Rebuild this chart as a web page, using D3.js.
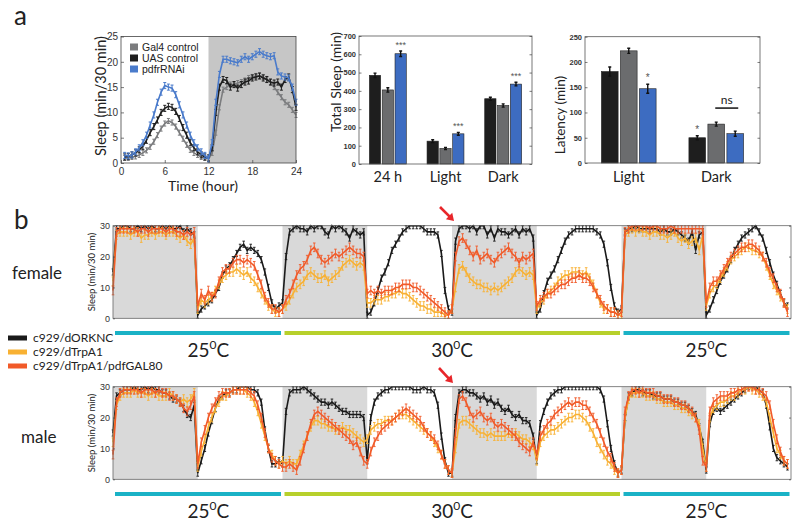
<!DOCTYPE html>
<html><head><meta charset="utf-8">
<script src="https://cdn.jsdelivr.net/npm/d3@7"></script>
<style>body{margin:0;background:#fff}svg{display:block}</style>
</head><body><svg id="c" width="800" height="528"></svg>
<script>
// ---------------- DATA ----------------
// Panel a: 24 h profile, 48 half-hour bins
const seriesA = ["Gal4 control", "UAS control", "pdfrRNAi"];
const gal4 = [1.0,1.0,1.2,1.3,1.6,2.0,2.5,3.2,4.2,5.5,6.8,7.8,8.3,8.0,7.2,6.0,4.8,3.6,2.6,2.0,1.6,1.2,1.0,0.8,
              2.0,6.0,11.0,14.5,15.0,15.5,15.5,15.8,16.0,16.3,16.8,17.0,17.2,17.2,17.0,16.5,16.0,15.0,14.0,13.0,12.0,11.5,10.5,9.5];
const uas  = [1.2,1.3,1.6,2.0,2.6,3.3,4.5,6.0,7.2,8.5,10.0,10.8,11.2,11.0,10.2,8.8,7.0,5.5,4.0,3.0,2.2,1.6,1.2,1.0,
              3.0,10.0,15.0,16.5,16.3,15.0,15.5,14.8,15.5,16.0,16.2,16.8,17.0,17.2,16.8,16.5,16.0,15.8,16.0,15.0,16.5,17.0,14.5,11.0];
const pdfr = [1.5,1.4,1.6,2.2,3.0,4.0,5.5,7.5,9.5,12.0,14.0,15.3,15.0,14.8,13.5,11.5,9.5,7.5,5.5,4.0,3.0,2.2,1.5,0.8,
              4.0,12.0,17.5,20.5,20.5,20.2,20.0,19.8,20.5,21.0,20.5,21.0,21.5,22.0,21.5,21.2,21.0,21.2,18.0,17.2,17.0,16.8,15.0,12.0];
const errA = [0.5, 0.6, 0.6];
const xTicksA = [0, 6, 12, 18, 24];
const yTicksA = [0, 5, 10, 15, 20, 25];

// Total sleep
const totalCats = ["24 h", "Light", "Dark"];
const totalUAS  = [485, 125, 357];
const totalGal4 = [405, 85, 320];
const totalPdfr = [603, 165, 437];
const totalErrUAS  = [12, 8, 8];
const totalErrGal4 = [12, 6, 9];
const totalErrPdfr = [15, 8, 10];
const totalStars = ["***", "***", "***"];
const totalTicks = [0,100,200,300,400,500,600,700];

// Latency
const latCats = ["Light", "Dark"];
const latUAS  = [181, 50];
const latGal4 = [222, 77];
const latPdfr = [147, 58];
const latErrUAS  = [9, 4];
const latErrGal4 = [5, 4];
const latErrPdfr = [9, 5];
const latTicks = [0,50,100,150,200,250];

// Panel b: 4 days, 8 half-days (dark first), 24 bins each
const seriesB = ["c929/dORKNC", "c929/dTrpA1", "c929/dTrpA1/pdfGAL80"];
const femaleORK = [
 15,29,29,30,30,29,29,30,29,30,29,30,29,29,30,29,30,29,29,30,28,29,28,27,
 1,3,4,5,6,8,10,14,16,17,19,21,23,24,22,23,22,21,19,15,10,5,3,4,
 5,20,28,29,30,29,29,28,30,29,30,30,28,27,30,29,30,29,28,26,29,28,27,28,
 1,2,5,9,13,15,18,22,24,26,28,29,30,30,30,30,29,28,28,28,27,21,9,3,
 2,25,29,30,30,29,30,28,30,30,27,29,26,29,28,28,27,28,29,27,29,28,29,26,
 1,3,8,12,14,16,19,22,25,27,28,29,29,29,29,29,29,28,27,24,18,10,4,2,
 3,28,29,29,30,29,29,29,29,29,29,28,29,28,28,29,28,27,26,25,28,22,27,28,
 1,3,6,9,12,14,16,19,22,24,26,27,28,29,30,28,26,22,18,14,11,8,5,4];
const femaleTrp = [
 12,27,28,28,28,27,28,28,26,27,27,28,27,28,28,27,28,28,27,26,27,25,24,26,
 3,6,5,6,7,9,11,13,14,15,15,16,15,14,15,13,12,10,8,6,4,3,2,2,
 3,4,6,8,10,11,12,14,15,14,13,13,14,12,13,14,15,17,18,19,18,17,18,17,
 5,5,6,6,6,7,7,8,8,9,8,8,7,6,5,4,4,3,3,2,2,2,1,1,
 3,10,16,17,15,13,12,11,11,10,10,9,10,9,10,11,12,13,15,16,15,14,15,14,
 3,5,6,8,9,10,12,13,14,14,15,15,15,14,15,13,11,8,5,3,3,2,2,1,
 1,27,28,29,28,29,28,28,27,28,28,27,27,26,27,28,26,25,26,24,25,26,22,27,
 4,8,10,11,13,15,17,19,20,21,22,23,23,22,22,21,20,17,14,11,9,7,5,3];
const femalePdf = [
 9,28,29,29,29,29,29,28,29,29,28,29,29,29,29,28,29,29,28,28,27,28,27,28,
 4,8,6,9,7,8,12,15,16,16,18,19,19,18,19,18,17,14,11,7,5,3,3,2,
 3,6,8,11,14,16,17,19,22,23,21,19,18,19,20,21,20,21,22,23,22,21,21,20,
 8,9,8,9,8,9,9,9,10,10,11,11,11,10,10,9,8,7,6,5,4,3,2,1,
 3,20,25,26,24,22,20,22,19,20,21,19,18,20,21,22,23,21,20,18,20,19,20,21,
 4,6,7,8,8,9,10,11,11,12,13,13,14,13,13,12,10,8,6,4,3,2,2,1,
 2,28,29,30,30,30,30,30,29,30,30,29,29,29,30,29,29,29,29,29,29,29,29,29,
 5,10,12,12,14,16,18,20,21,22,23,23,24,24,23,22,20,18,15,13,10,8,5,2];
const maleORK = [
 15,27,28,29,29,29,30,29,29,30,29,30,29,29,28,28,27,26,26,25,23,21,20,24,
 2,6,10,15,19,23,26,27,28,28,29,29,30,30,30,29,29,28,25,16,10,5,5,6,
 5,22,28,29,29,29,30,29,28,27,26,25,25,24,25,24,23,22,22,21,21,21,21,20,
 6,20,25,27,28,29,29,30,30,30,30,30,30,29,29,29,30,29,29,28,24,14,6,2,
 2,20,28,29,29,28,28,27,26,27,25,26,24,25,23,22,23,21,20,21,19,19,18,14,
 6,18,22,25,27,28,29,29,30,30,30,30,30,30,30,30,30,30,29,26,18,10,5,2,
 3,20,27,28,29,29,28,28,28,27,27,27,26,26,26,25,25,24,24,23,22,21,17,12,
 3,18,22,23,22,23,24,25,26,27,28,29,30,30,30,29,28,24,17,10,7,6,5,4];
const maleTrp = [
 12,24,27,28,28,28,29,28,28,28,27,28,28,27,27,27,28,27,26,25,26,25,26,28,
 4,9,13,17,20,23,25,27,27,28,29,29,29,29,28,27,25,22,18,14,10,8,6,5,
 6,5,6,5,5,8,11,14,17,19,19,18,18,17,17,16,16,17,16,16,15,14,13,12,
 13,16,17,18,18,19,19,19,20,21,21,21,20,19,18,17,16,15,14,12,10,8,5,3,
 2,10,18,19,19,18,17,16,15,15,14,15,14,14,14,14,15,14,15,14,13,13,12,11,
 6,12,14,15,16,16,17,18,19,20,20,21,21,20,19,17,15,12,10,8,6,5,3,2,
 3,20,26,28,28,28,28,27,27,27,26,26,25,25,25,24,24,23,23,22,21,20,18,10,
 4,20,23,24,25,25,26,27,27,28,29,29,30,29,29,28,27,25,20,15,10,8,6,5];
const malePdf = [
 8,25,28,29,29,29,29,29,28,29,29,29,28,29,28,28,27,27,26,25,23,22,24,27,
 5,12,16,20,23,25,27,28,28,28,29,29,29,29,29,28,27,24,20,15,10,7,6,5,
 4,4,5,4,3,6,10,14,18,21,22,21,20,19,18,17,16,15,14,13,11,12,9,6,
 5,9,12,14,16,17,18,19,20,21,22,23,22,21,20,19,17,15,14,13,11,8,5,3,
 2,15,26,27,25,22,20,21,22,20,19,20,18,17,18,17,16,15,14,12,11,10,9,12,
 8,14,16,18,19,21,22,23,24,25,24,25,25,24,24,22,20,18,15,12,9,7,4,2,
 3,22,27,29,29,28,29,28,28,28,27,27,26,26,26,25,25,24,24,23,22,20,16,6,
 4,22,25,26,27,27,27,28,28,29,29,30,30,30,29,29,28,27,24,18,13,9,6,5];
const errB = [1.0, 1.4, 1.4];
const darkPhases = [[0,12],[24,36],[48,60],[72,84]];
const tempSegments = [[0,24,"25"],[24,72,"30"],[72,96,"25"]];
const yTicksB = [0,10,20,30];

// ---------------- STYLE ----------------
const FL = "Lato, 'Open Sans', sans-serif";
const FT = "'Liberation Sans', Arial, sans-serif";
const colA = ["#7b7c7e", "#1e1e1e", "#4a7bcb"];
const colBar = ["#1e1e1e", "#6b6c6e", "#3d6cc1"];
const colB = ["#1a1a1a", "#f8b133", "#f15a29"];

const svg = d3.select("#c");
svg.append("rect").attr("width", 800).attr("height", 528).attr("fill", "#fff");

function errPath(pts, x, y, e, cap, ymax) {
  let s = "";
  pts.forEach(([t, v]) => {
    const px = x(t), hi = y(Math.min(v + e, ymax)), lo = y(Math.max(v - e, 0));
    s += `M${px},${lo}V${hi}M${px - cap},${hi}H${px + cap}M${px - cap},${lo}H${px + cap}`;
  });
  return s;
}
function styleTicks(g, size, weight) {
  g.selectAll("text").attr("font-family", FT).attr("font-size", size).attr("fill", "#333").attr("font-weight", weight || "normal");
  g.selectAll("line").attr("stroke", "#444").attr("stroke-width", 0.7);
  g.select(".domain").remove();
}

// panel labels
svg.append("text").attr("x", 14).attr("y", 25).text("a").attr("font-family", FL).attr("font-size", 26).attr("fill", "#222");
svg.append("text").attr("x", 14).attr("y", 229).text("b").attr("font-family", FL).attr("font-size", 26).attr("fill", "#222");

// ---------------- PANEL a: profile ----------------
{
  const x = d3.scaleLinear().domain([0, 24]).range([121, 296]);
  const y = d3.scaleLinear().domain([0, 25]).range([163, 36.5]);
  const g = svg.append("g");
  g.append("rect").attr("x", x(12)).attr("y", y(25)).attr("width", x(24) - x(12)).attr("height", y(0) - y(25)).attr("fill", "#c6c6c6");
  const tA = gal4.map((_, i) => (i + 1) * 0.5);
  [gal4, uas, pdfr].forEach((vals, k) => {
    const pts = vals.map((v, i) => [tA[i], v]);
    g.append("path").attr("d", d3.line().x(d => x(d[0])).y(d => y(d[1]))(pts))
      .attr("fill", "none").attr("stroke", colA[k]).attr("stroke-width", 1.6);
    g.append("path").attr("d", errPath(pts, x, y, errA[k], 1.5, 25))
      .attr("fill", "none").attr("stroke", colA[k]).attr("stroke-width", 1);
  });
  g.append("rect").attr("x", x(0)).attr("y", y(25)).attr("width", x(24) - x(0)).attr("height", y(0) - y(25))
    .attr("fill", "none").attr("stroke", "#444").attr("stroke-width", 0.8);
  const ax = g.append("g").attr("transform", `translate(0,${y(0)})`)
    .call(d3.axisBottom(x).tickValues(xTicksA).tickSize(-3).tickSizeOuter(0).tickPadding(5));
  styleTicks(ax, 10);
  const ay = g.append("g").attr("transform", `translate(${x(0)},0)`)
    .call(d3.axisLeft(y).tickValues(yTicksA).tickSize(-3).tickSizeOuter(0).tickPadding(3));
  styleTicks(ay, 10);
  // legend
  seriesA.forEach((s, k) => {
    const ly = 47 + k * 11;
    g.append("rect").attr("x", 130).attr("y", ly - 3.5).attr("width", 8).attr("height", 7).attr("fill", colA[k]);
    g.append("text").attr("x", 142).attr("y", ly + 4).text(s).attr("font-family", FT).attr("font-size", 10.5).attr("fill", "#222");
  });
  g.append("text").attr("transform", `translate(106,96) rotate(-90)`).attr("text-anchor", "middle")
    .text("Sleep (min/30 min)").attr("font-family", FL).attr("font-size", 14.5).attr("fill", "#222");
  g.append("text").attr("x", 203).attr("y", 191).attr("text-anchor", "middle")
    .text("Time (hour)").attr("font-family", FL).attr("font-size", 14).attr("fill", "#222");
}

// ---------------- bar chart helper ----------------
function barChart(o) {
  const g = svg.append("g");
  const x = d3.scaleBand().domain(o.cats).range([o.x0, o.x1]).paddingInner(o.pi).paddingOuter(o.pi / 2);
  const xi = d3.scaleBand().domain([0, 1, 2]).range([0, x.bandwidth()]).paddingInner(0.12);
  const y = d3.scaleLinear().domain([0, o.yMax]).range([o.yBot, o.yTop]);
  const vals = [o.s0, o.s1, o.s2], errs = [o.e0, o.e1, o.e2];
  o.cats.forEach((c, ci) => {
    vals.forEach((arr, k) => {
      const bx = x(c) + xi(k), bw = xi.bandwidth();
      g.append("rect").attr("x", bx).attr("y", y(arr[ci])).attr("width", bw).attr("height", y(0) - y(arr[ci]))
        .attr("fill", colBar[k]).attr("stroke", "#222").attr("stroke-width", 0.6);
      const cx = bx + bw / 2;
      g.append("path").attr("d", `M${cx},${y(arr[ci] - errs[k][ci])}V${y(arr[ci] + errs[k][ci])}M${cx - 1.5},${y(arr[ci] + errs[k][ci])}H${cx + 1.5}M${cx - 1.5},${y(arr[ci] - errs[k][ci])}H${cx + 1.5}`)
        .attr("stroke", "#111").attr("stroke-width", 1.4).attr("fill", "none");
    });
  });
  g.append("rect").attr("x", o.x0).attr("y", o.yTop).attr("width", o.x1 - o.x0).attr("height", o.yBot - o.yTop)
    .attr("fill", "none").attr("stroke", "#555").attr("stroke-width", 0.8);
  const ay = g.append("g").attr("transform", `translate(${o.x0},0)`)
    .call(d3.axisLeft(y).tickValues(o.ticks).tickSize(-2.5).tickSizeOuter(0).tickPadding(3));
  styleTicks(ay, 7.5, "bold");
  const ar = g.append("g").attr("transform", `translate(${o.x1},0)`)
    .call(d3.axisRight(y).tickValues(o.ticks).tickSize(-2.5).tickSizeOuter(0).tickFormat(""));
  styleTicks(ar, 7);
  o.cats.forEach(c => {
    g.append("text").attr("x", x(c) + x.bandwidth() / 2).attr("y", 182).attr("text-anchor", "middle")
      .text(c).attr("font-family", FL).attr("font-size", 14.5).attr("fill", "#222");
  });
  g.append("text").attr("transform", `translate(${o.tx},${o.ty}) rotate(-90)`).attr("text-anchor", "middle")
    .text(o.title).attr("font-family", FL).attr("font-size", o.tfs).attr("fill", "#222");
  return { g, x, xi, y };
}

// Total sleep
{
  const c = barChart({ cats: totalCats, s0: totalUAS, s1: totalGal4, s2: totalPdfr, e0: totalErrUAS, e1: totalErrGal4, e2: totalErrPdfr,
    x0: 359, x1: 532, yTop: 36, yBot: 164, yMax: 700, ticks: totalTicks, pi: 0.36, title: "Total Sleep (min)", tx: 341, ty: 82, tfs: 14 });
  totalCats.forEach((cat, ci) => {
    const cx = c.x(cat) + c.xi(2) + c.xi.bandwidth() / 2;
    c.g.append("text").attr("x", cx).attr("y", c.y(totalPdfr[ci] + totalErrPdfr[ci]) - 3).attr("text-anchor", "middle")
      .text(totalStars[ci]).attr("font-family", FT).attr("font-size", 9).attr("fill", "#555");
  });
}
// Latency
{
  const c = barChart({ cats: latCats, s0: latUAS, s1: latGal4, s2: latPdfr, e0: latErrUAS, e1: latErrGal4, e2: latErrPdfr,
    x0: 585, x1: 760, yTop: 36.7, yBot: 163, yMax: 250, ticks: latTicks, pi: 0.375, title: "Latency  (min)", tx: 565, ty: 115, tfs: 13.5 });
  const sx = (cat, k) => c.x(cat) + c.xi(k) + c.xi.bandwidth() / 2;
  c.g.append("text").attr("x", sx("Light", 2)).attr("y", c.y(latPdfr[0] + latErrPdfr[0]) - 3).attr("text-anchor", "middle")
    .text("*").attr("font-family", FT).attr("font-size", 10).attr("fill", "#555");
  c.g.append("text").attr("x", sx("Dark", 0)).attr("y", c.y(latUAS[1] + latErrUAS[1]) - 3).attr("text-anchor", "middle")
    .text("*").attr("font-family", FT).attr("font-size", 10).attr("fill", "#555");
  const ly = c.y(latGal4[1] + latErrGal4[1]) - 14;
  c.g.append("line").attr("x1", sx("Dark", 1) - 1).attr("x2", sx("Dark", 2) + 3).attr("y1", ly).attr("y2", ly)
    .attr("stroke", "#111").attr("stroke-width", 1.5);
  c.g.append("text").attr("x", (sx("Dark", 1) + sx("Dark", 2)) / 2 + 1).attr("y", ly - 4).attr("text-anchor", "middle")
    .text("ns").attr("font-family", FL).attr("font-size", 12).attr("fill", "#222");
}

// ---------------- PANEL b ----------------
const xb = d3.scaleLinear().domain([0, 96]).range([113, 791]);
const tB = femaleORK.map((_, i) => Math.floor(i / 24) * 12 + (i % 24) * 0.5);

function sleepPanel(yTop, yBot, data, label, lx, ly, tempY, tempTextY, arrow) {
  const y = d3.scaleLinear().domain([0, 30]).range([yBot, yTop]);
  const g = svg.append("g");
  darkPhases.forEach(([a, b]) => {
    g.append("rect").attr("x", xb(a)).attr("y", yTop).attr("width", xb(b) - xb(a)).attr("height", yBot - yTop).attr("fill", "#d9d9d9");
  });
  data.forEach((vals, k) => {
    const pts = vals.map((v, i) => [tB[i], v]);
    g.append("path").attr("d", d3.line().x(d => xb(d[0])).y(d => y(d[1]))(pts))
      .attr("fill", "none").attr("stroke", colB[k]).attr("stroke-width", 1.6);
    g.append("path").attr("d", errPath(pts, xb, y, errB[k], 1.3, 30))
      .attr("fill", "none").attr("stroke", colB[k]).attr("stroke-width", 0.9);
  });
  g.append("rect").attr("x", xb(0)).attr("y", yTop).attr("width", xb(96) - xb(0)).attr("height", yBot - yTop)
    .attr("fill", "none").attr("stroke", "#666").attr("stroke-width", 0.8);
  const ay = g.append("g").attr("transform", `translate(${xb(0)},0)`)
    .call(d3.axisLeft(y).tickValues(yTicksB).tickSize(-2).tickSizeOuter(0).tickPadding(3));
  styleTicks(ay, 9);
  const ar = g.append("g").attr("transform", `translate(${xb(96)},0)`)
    .call(d3.axisRight(y).tickValues(yTicksB).tickSize(-2).tickSizeOuter(0).tickFormat(""));
  styleTicks(ar, 9);
  g.append("text").attr("transform", `translate(95,${(yTop + yBot) / 2}) rotate(-90)`).attr("text-anchor", "middle")
    .text("Sleep (min/30 min)").attr("font-family", FL).attr("font-size", 9.5).attr("fill", "#222");
  g.append("text").attr("x", lx).attr("y", ly).text(label).attr("font-family", FL).attr("font-size", 17).attr("fill", "#222");
  tempSegments.forEach(([a, b, t], i) => {
    g.append("rect").attr("x", xb(a) + 2).attr("y", tempY - 2).attr("width", xb(b) - xb(a) - 3.5).attr("height", 4)
      .attr("fill", t === "25" ? "#1ab2c6" : "#b7d02b");
    const cx = i === 0 ? xb(a + 13.5) : xb((a + b) / 2);
    const tx = g.append("text").attr("x", cx).attr("y", tempTextY).attr("text-anchor", "middle")
      .attr("font-family", FL).attr("font-size", 19).attr("fill", "#222");
    tx.append("tspan").text(t);
    tx.append("tspan").text("0").attr("font-size", 12).attr("dy", -8);
    tx.append("tspan").text("C").attr("dy", 8);
  });
  // red arrow
  const [ax0, ay0, ax1, ay1] = arrow;
  const ang = Math.atan2(ay1 - ay0, ax1 - ax0);
  g.append("line").attr("x1", ax0).attr("y1", ay0).attr("x2", ax1 - 4 * Math.cos(ang)).attr("y2", ay1 - 4 * Math.sin(ang))
    .attr("stroke", "#e8262a").attr("stroke-width", 2.6);
  const hl = 7, hw = 4.5;
  const p1 = [ax1 - hl * Math.cos(ang) + hw * Math.sin(ang), ay1 - hl * Math.sin(ang) - hw * Math.cos(ang)];
  const p2 = [ax1 - hl * Math.cos(ang) - hw * Math.sin(ang), ay1 - hl * Math.sin(ang) + hw * Math.cos(ang)];
  g.append("path").attr("d", `M${ax1},${ay1}L${p1}L${p2}Z`).attr("fill", "#e8262a");
}

sleepPanel(225.7, 318.3, [femaleORK, femaleTrp, femalePdf], "female", 12, 279, 333, 357, [440, 207, 454, 221]);
sleepPanel(386.7, 479.3, [maleORK, maleTrp, malePdf], "male", 21, 443, 494, 518, [439, 368, 453, 383]);

// legend b
seriesB.forEach((s, k) => {
  const ly = 338 + k * 14;
  svg.append("rect").attr("x", 8).attr("y", ly - 2.5).attr("width", 19).attr("height", 5).attr("fill", colB[k]);
  svg.append("text").attr("x", 33).attr("y", ly + 4).text(s).attr("font-family", FL).attr("font-size", 12).attr("fill", "#222");
});
</script></body></html>
